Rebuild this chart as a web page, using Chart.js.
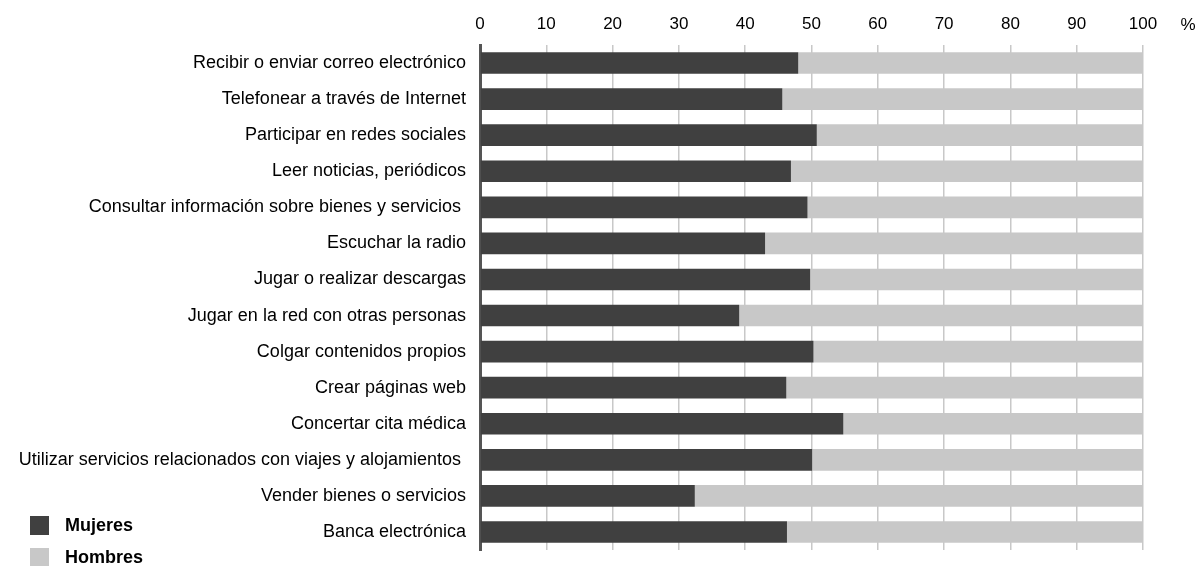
<!DOCTYPE html>
<html>
<head>
<meta charset="utf-8">
<script src="https://cdn.jsdelivr.net/npm/chart.js@4"></script>
<style>
    body { margin: 0; background: #fff; }
    #wrap { position: relative; width: 1199px; height: 566px; }
    .legend { position: absolute; left: 30px; font: bold 18px "Liberation Sans", Arial, sans-serif; line-height: 19px; color: #000; }
    .legend span.box { display: inline-block; width: 19px; height: 19px; vertical-align: top; margin-right: 16px; }
</style>
</head>
<body>
<div id="wrap">
    <canvas id="chart" width="1199" height="566"></canvas>
    <div class="legend" style="top:516px;"><span class="box" style="background:#404040"></span>Mujeres</div>
    <div class="legend" style="top:548px;"><span class="box" style="background:#c8c8c8"></span>Hombres</div>
</div>
<script>
// Categorias
const categorias = [
    'Recibir o enviar correo electrónico',
    'Telefonear a través de Internet',
    'Participar en redes sociales',
    'Leer noticias, periódicos',
    'Consultar información sobre bienes y servicios ',
    'Escuchar la radio',
    'Jugar o realizar descargas',
    'Jugar en la red con otras personas',
    'Colgar contenidos propios',
    'Crear páginas web',
    'Concertar cita médica',
    'Utilizar servicios relacionados con viajes y alojamientos ',
    'Vender bienes o servicios',
    'Banca electrónica'
];

// Porcentaje mujeres / hombres
const mujeres = [48.0, 45.6, 50.8, 46.9, 49.4, 43.0, 49.8, 39.1, 50.3, 46.2, 54.8, 50.1, 32.4, 46.3];
const hombres = [52.0, 54.4, 49.2, 53.1, 50.6, 57.0, 50.2, 60.9, 49.7, 53.8, 45.2, 49.9, 67.6, 53.7];

const fuente = '"Liberation Sans", Arial, sans-serif';

// Dibuja el simbolo % a la derecha de las etiquetas del eje
const porcentajePlugin = {
    id: 'porcentaje',
    afterDraw(chart) {
        const ctx = chart.ctx;
        const x = chart.scales.x;
        ctx.save();
        ctx.font = '17px ' + fuente;
        ctx.fillStyle = '#000';
        ctx.textBaseline = 'middle';
        ctx.textAlign = 'center';
        ctx.fillText('%', x.right + 45, 25);
        ctx.restore();
    }
};

new Chart(document.getElementById('chart'), {
    type: 'bar',
    data: {
        labels: categorias,
        datasets: [
            {
                label: 'Mujeres',
                data: mujeres,
                backgroundColor: '#404040',
                borderWidth: 0,
                categoryPercentage: 1,
                barPercentage: 0.6
            },
            {
                label: 'Hombres',
                data: hombres,
                backgroundColor: '#c8c8c8',
                borderWidth: 0,
                categoryPercentage: 1,
                barPercentage: 0.6
            }
        ]
    },
    options: {
        indexAxis: 'y',
        responsive: false,
        animation: false,
        layout: {
            padding: { left: 0, right: 56, top: 0, bottom: 16 }
        },
        plugins: {
            legend: { display: false },
            tooltip: { enabled: false }
        },
        scales: {
            x: {
                position: 'top',
                stacked: true,
                min: 0,
                max: 100,
                ticks: {
                    stepSize: 10,
                    padding: 10,
                    color: '#000',
                    font: { size: 17, family: fuente }
                },
                grid: {
                    color: '#c8c8c8',
                    lineWidth: 1.5,
                    drawTicks: false
                },
                border: { display: false },
                afterFit: function(scale) {
                    scale.height = 45;
                }
            },
            y: {
                stacked: true,
                ticks: {
                    padding: 14,
                    color: '#000',
                    font: { size: 18, family: fuente }
                },
                grid: { display: false, drawTicks: false },
                border: { display: true, color: '#555', width: 3 },
                afterFit: function(scale) {
                    scale.width = 480;
                    scale.paddingTop = 0;
                    scale.paddingBottom = 0;
                }
            }
        }
    },
    plugins: [porcentajePlugin]
});
</script>
</body>
</html>
